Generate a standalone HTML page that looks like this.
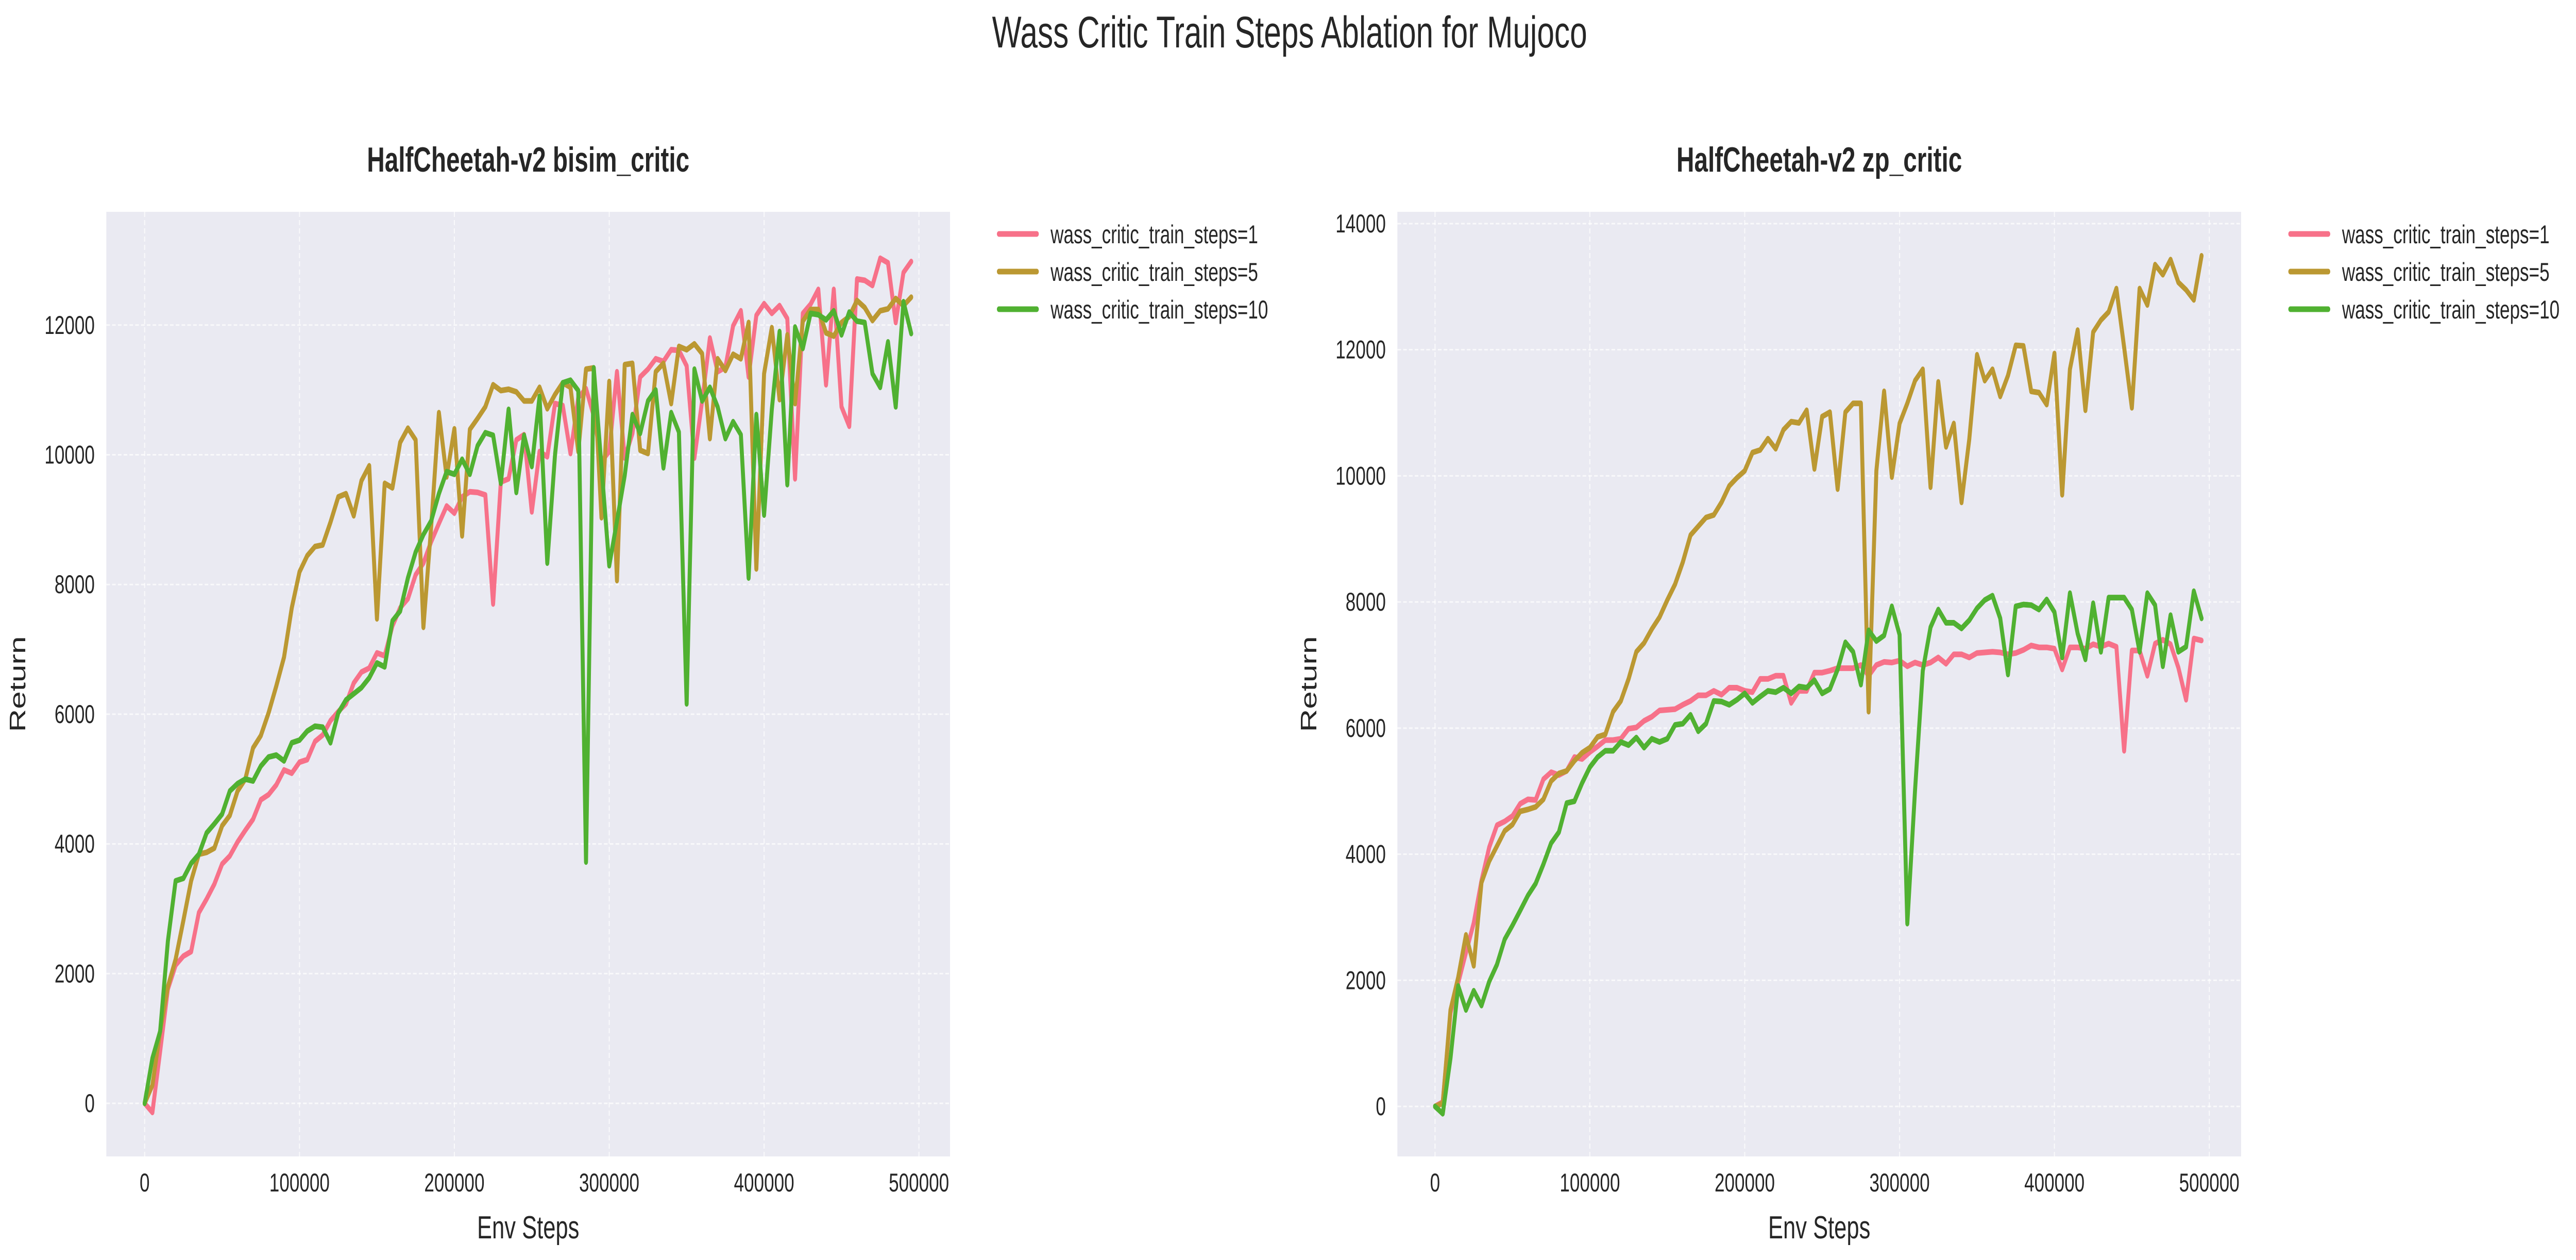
<!DOCTYPE html>
<html><head><meta charset="utf-8"><style>
html,body{margin:0;padding:0;background:#fff;width:100%;height:100%;overflow:hidden;}
svg{display:block;width:100vw;height:100vh;font-family:"Liberation Sans",Arial,sans-serif;}
</style></head><body>
<svg id="fig" viewBox="0 0 7123 2445" preserveAspectRatio="none" xmlns="http://www.w3.org/2000/svg">
<text x="3566" y="92" font-size="86" fill="#262626" text-anchor="middle">Wass Critic Train Steps Ablation for Mujoco</text>
</svg>
<script>
const xTicks=[0,100000,200000,300000,400000,500000];
const leftYTicks=[0,2000,4000,6000,8000,10000,12000];
const rightYTicks=[0,2000,4000,6000,8000,10000,12000,14000];
const seriesLabels=["wass_critic_train_steps=1","wass_critic_train_steps=5","wass_critic_train_steps=10"];
const stepInterval=5000;
const leftS1=[0,-140,800,1760,2130,2270,2340,2940,3150,3380,3690,3815,4030,4210,4380,4680,4760,4910,5140,5090,5260,5300,5580,5680,5900,6040,6160,6480,6650,6710,6945,6900,7360,7640,7780,8150,8330,8660,8940,9210,9100,9350,9430,9420,9380,7700,9580,9630,10230,10310,
9120,10050,9970,10790,10760,10020,10880,11020,10600,9900,10050,11280,9950,10330,11200,11320,11480,11440,11620,11610,11370,9950,10830,11800,11280,11350,11990,12220,11200,12150,12330,12180,12300,12100,9630,12180,12320,12550,11080,12550,10740,10440,12710,12690,12610,13030,12960,12040,12810,12980];
const leftS5=[0,280,1110,1800,2220,2820,3430,3840,3870,3935,4280,4440,4815,5000,5480,5670,6020,6435,6880,7640,8195,8445,8585,8610,8960,9350,9400,9060,9600,9830,7470,9560,9490,10190,10410,10230,7340,8890,10650,9660,10400,8750,10390,10560,10740,11080,10990,11010,10970,10830,
10830,11040,10710,10930,11110,11040,10050,11320,11340,9030,11130,8060,11390,11410,10070,10020,11280,11410,10790,11670,11620,11710,11560,10250,11480,11300,11550,11480,12040,8240,11250,11960,10850,11850,10790,12060,12240,12240,11880,11830,12040,12130,12380,12270,12070,12220,12250,12410,12300,12430];
const leftS10=[0,695,1110,2500,3430,3470,3700,3840,4170,4310,4460,4815,4930,5000,4970,5200,5340,5370,5280,5560,5600,5740,5815,5800,5560,6020,6220,6315,6410,6560,6790,6730,7440,7590,8100,8500,8770,8980,9400,9740,9700,9930,9700,10140,10340,10300,9560,10700,9420,10300,
9820,10900,8330,10000,11110,11150,10990,3720,11340,9820,8290,8980,9680,10620,10330,10830,11000,9800,10650,10350,6160,11320,10830,11040,10740,10250,10510,10310,8100,10620,9070,10700,11900,9540,11970,11640,12180,12160,12080,12220,11850,12200,12060,12040,11250,11040,11740,10740,12360,11870];
const rightS1=[0,70,1480,1960,2440,2910,3580,4110,4460,4520,4605,4800,4870,4860,5190,5300,5255,5320,5540,5510,5620,5710,5810,5810,5830,5990,6010,6115,6180,6280,6290,6300,6370,6430,6520,6520,6590,6530,6640,6640,6590,6570,6780,6780,6830,6830,6400,6590,6590,6880,
6880,6910,6950,6950,6950,7000,6830,7000,7050,7040,7070,6980,7040,7000,7040,7120,7020,7170,7170,7120,7190,7200,7210,7200,7170,7190,7240,7310,7280,7280,7260,6930,7280,7280,7260,7330,7290,7340,7290,5640,7230,7230,6830,7340,7400,7330,6960,6450,7420,7390];
const rightS5=[0,50,1530,2050,2720,2230,3550,3890,4130,4370,4470,4680,4710,4750,4870,5160,5280,5320,5480,5610,5690,5860,5900,6260,6430,6780,7210,7350,7570,7760,8030,8280,8630,9060,9200,9340,9380,9580,9840,9970,10080,10370,10410,10590,10430,10730,10860,10840,11040,10110,
10940,11010,9790,11010,11150,11150,6260,10080,11340,9980,10830,11150,11510,11690,9820,11490,10460,10830,9580,10580,11920,11510,11690,11260,11590,12070,12060,11340,11320,11130,11940,9700,11690,12310,11040,12280,12470,12600,12970,12040,11080,12970,12710,13350,13190,13430,13070,12950,12790,13490];
const rightS10=[0,-115,765,1910,1530,1835,1600,1980,2250,2650,2870,3105,3345,3535,3840,4175,4350,4810,4840,5130,5380,5540,5640,5640,5780,5730,5850,5690,5830,5780,5830,6050,6070,6210,5950,6070,6430,6420,6370,6450,6550,6400,6500,6590,6570,6640,6550,6660,6640,6760,
6550,6620,6930,7360,7210,6690,7550,7380,7470,7930,7480,2900,5020,6910,7600,7880,7670,7670,7580,7710,7900,8030,8100,7740,6850,7930,7960,7950,7880,8040,7840,7120,8140,7500,7090,7980,7210,8070,8070,8070,7880,7210,8140,7950,6980,7790,7210,7290,8170,7740];

const NS="http://www.w3.org/2000/svg";
const svg=document.getElementById('fig');
const colors=["#f77189","#bb9832","#50b131"];
function mk(tag,attrs,parent){const e=document.createElementNS(NS,tag);for(const k in attrs)e.setAttribute(k,attrs[k]);(parent||svg).appendChild(e);return e;}

function panel(cfg){
  const g=mk('g',{});
  
  
  const xs=v=>cfg.x0+v*cfg.kx;
  const ys=v=>cfg.y0-v*cfg.ky;
  const bg=mk('rect',{x:cfg.left,y:cfg.top,width:cfg.w,height:cfg.h,fill:'#eaeaf2'},g);
  
  
  cfg.yTicks.forEach(t=>{
    const y=ys(t);
    const gl=mk('line',{x1:cfg.left,x2:cfg.left+cfg.w,y1:y,y2:y,stroke:'#ffffff','stroke-width':3,'stroke-dasharray':'10,6','stroke-opacity':0.7},g);
    
    
    const tl=mk('text',{x:cfg.left-32,y:y+17,'font-size':50,fill:'#262626','text-anchor':'end'},g);
    tl.textContent=String(t);
    
    
  });
  xTicks.forEach(t=>{
    const x=xs(t);
    const gl=mk('line',{x1:x,x2:x,y1:cfg.top,y2:cfg.top+cfg.h,stroke:'#ffffff','stroke-width':3,'stroke-dasharray':'10,6','stroke-opacity':0.7},g);
    
    
    const tl=mk('text',{x:x,y:2312,'font-size':50,fill:'#262626','text-anchor':'middle'},g);
    tl.textContent=String(t);
    
    
  });
  cfg.series.forEach((arr,si)=>{
    const pts=arr.map((v,i)=>xs(i*stepInterval).toFixed(1)+','+ys(v).toFixed(1)).join(' ');
    const pl=mk('polyline',{points:pts,fill:'none',stroke:colors[si],'stroke-width':11,'stroke-linejoin':'round','stroke-linecap':'round'},g);
    
    
  });
  const tt=mk('text',{x:cfg.left+cfg.w/2,y:333,'font-size':68,'font-weight':'bold',fill:'#262626','text-anchor':'middle'},g);
  tt.textContent=cfg.title;
  
  
  const xl=mk('text',{x:cfg.left+cfg.w/2,y:2403,'font-size':62,fill:'#262626','text-anchor':'middle'},g);
  xl.textContent='Env Steps';
  
  
  const ly=cfg.top+cfg.h/2;
  const yl=mk('text',{x:cfg.ylabX,y:ly,'font-size':62,fill:'#262626','text-anchor':'middle',transform:'rotate(-90 '+cfg.ylabX+' '+ly+')'},g);
  yl.textContent='Return';
  
  
  const lg=mk('g',{},g);
  
  
  seriesLabels.forEach((lab,si)=>{
    const y=cfg.legY+si*73;
    const ln=mk('line',{x1:cfg.legX,x2:cfg.legX+105,y1:y,y2:y,stroke:colors[si],'stroke-width':11,'stroke-linecap':'round'},lg);
    
    
    const tx=mk('text',{x:cfg.legX+143,y:y+18,'font-size':50,fill:'#262626'},lg);
    tx.textContent=lab;
    
    
  });
}
panel({name:'left-panel-bisim-critic',title:'HalfCheetah-v2 bisim_critic',left:294,top:411,w:2333,h:1833,x0:400,kx:2141/500000,y0:2141,ky:0.12585,yTicks:leftYTicks,series:[leftS1,leftS5,leftS10],ylabX:70,legX:2762,legY:454});
panel({name:'right-panel-zp-critic',title:'HalfCheetah-v2 zp_critic',left:3864,top:411,w:2333,h:1833,x0:3968,kx:2141/500000,y0:2147,ky:0.12236,yTicks:rightYTicks,series:[rightS1,rightS5,rightS10],ylabX:3640,legX:6333,legY:454});
</script>
</body></html>
